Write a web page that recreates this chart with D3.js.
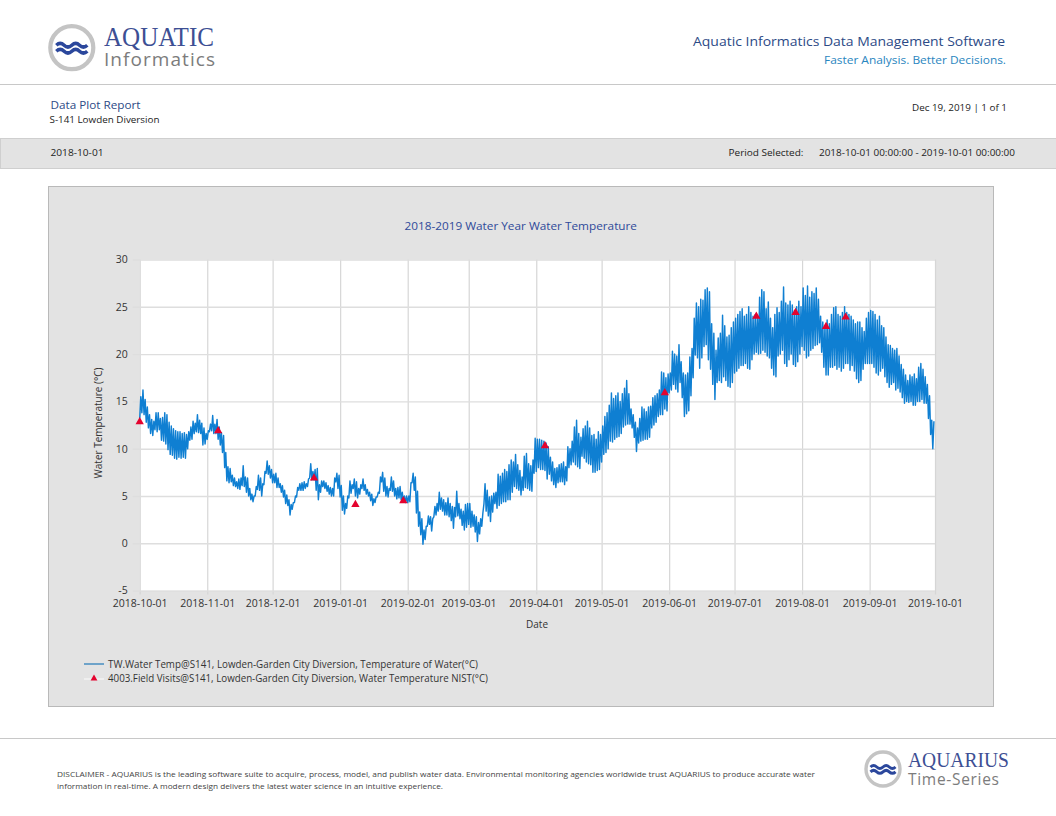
<!DOCTYPE html>
<html>
<head>
<meta charset="utf-8">
<title>Data Plot Report</title>
<script src="https://cdn.jsdelivr.net/npm/d3@7"></script>
<style>
html,body{margin:0;padding:0;background:#fff;}
svg{display:block;}
text{font-family:"Open Sans","Noto Sans",sans-serif;}
</style>
</head>
<body>
<svg id="main"></svg>
<script>
// daily low / high water temperature, one pair per day from 2018-10-01
var tempLow=[
//oct
13.2,13.8,13.6,12.8,12.2,11.6,11.4,12,11.8,12,10.9,10.8,10.5,9.9,9.4,9.3,9,8.9,9.1,9,9.1,9,10,10.9,11,11.6,11.8,11.7,11.6,10.4,10.5,
//nov
11,11.8,11.9,11.6,11.6,11,10.4,9.6,8,6.6,6.4,6.5,6.1,6,5.8,5.7,6.1,6,5.4,5,4.6,4.4,5,5.7,5.6,5,6.2,7.4,7.3,6.9,
//dec
6.4,6.4,5.9,5.9,5.4,4.9,4.2,4,3,3.6,4.3,4.9,5.6,5.6,5.6,5.8,6,6.9,6.7,6.7,5.6,4.6,5.4,6,5.8,5.5,5.2,5,5,6.5,5.8,
//jan
4.9,3.5,3.1,3.7,4.8,5.3,5.8,5,4.8,5.2,5.8,5.6,5.2,5,4.5,4,4.3,4.9,5.3,6.5,5.5,5,4.9,5.6,5.5,5,4.7,4.8,4.6,4.5,4.3,
//feb
4.3,4.4,6.4,5.6,3.2,1.8,0.9,-0.1,0.4,1.8,2,1.3,2.8,3,3.4,3.6,3.4,3,3,2.8,2.4,1.6,2.8,2.9,2.6,1.9,1.4,1.7,
//mar
2,1.7,1.8,1.2,0.2,1,1.8,4.2,3.4,2.9,2.3,3.3,4.2,3.7,4,4.2,4.4,4.4,4.6,4.6,5.4,6,5.8,5.6,5.1,5.6,5.9,5.8,5.6,5.5,7.4,
//apr
7.6,8,7.8,7.8,7.7,6.8,7.3,6.6,6.2,5.9,6.4,6.5,6.5,6.2,6.6,8,8.3,8.6,8.3,8.1,7.9,9.2,9,8.6,8.4,8.3,7.5,7.5,7.7,7.8,
//may
8.6,9.4,9.6,10,10.8,10.7,11,11.2,11.3,11.6,12.3,12.5,12.6,12.6,12.2,11.2,9.7,10.6,10.8,10.9,11,11,11.2,12.2,12.5,12.8,13.4,13.6,13.6,14.2,14,15.9,
//jun
16.2,16.8,16.3,16,17,15.4,13.4,13.7,14,15.6,17.5,19.9,19.6,18.5,19.6,20.8,21,19.4,18.4,16.8,15.2,17,17.2,17,17.6,17.2,16.6,16.5,17,18,
//jul
18.2,18.5,18.8,18.8,19,18.5,18.4,19.4,20,20.2,20,20.1,20.4,20.2,19.8,19.6,18.5,17.8,17.6,19.8,20,20.4,19,18.7,19.4,20,18.9,18.7,19.2,20,20.8,
//aug
20.4,19.6,19.8,20.4,20.6,20.9,21,21.2,20.2,18.6,17.8,17.8,18.6,18.6,18.8,18.4,18.6,18.2,18.5,19,19,18.3,18.8,18.2,17.4,17,17.2,18.4,19,19,19,
//sep
19,18.6,18,17.8,18.2,18.5,17.6,17,16.5,16.8,17,16.2,16.4,16,15.4,14.8,15,14.9,15,14.6,14.6,15,15,15.2,14.8,14.8,13.2,11.5,10
];
var tempHigh=[
//oct
15.5,16.2,15.2,14.4,13.6,13.1,12.9,13.8,13.8,13.2,13.3,13.8,13.6,12.8,12.4,12.1,11.9,11.8,11.8,11.6,11.7,11.5,11.8,12.3,12.9,12.7,13.6,13,12.7,12.2,11.6,
//nov
11.9,12.6,13.5,12.6,13.1,12.3,11.7,11.4,9.6,8.1,7.9,7.2,6.9,6.5,6.8,6.9,8.2,7,6.9,5.8,5.2,5,6,7.2,6.9,6.3,7.6,8.7,8.2,7.8,
//dec
7.3,7.4,6.9,6.3,6.1,5.6,5.1,4.6,4.1,4.3,5,5.9,6.3,6.4,6.5,6.3,6.8,8.4,7.6,7.8,7.9,6.2,6.6,6.6,6.4,6.1,5.9,5.8,6.9,7.4,7.2,
//jan
6.1,5,4.2,5,6.6,6.2,6.8,6.5,5.8,6.2,6.8,6.2,5.7,5.4,5.2,4.7,4.9,5.4,7,7.5,6.9,6,5.8,7,6.6,5.8,5.9,6,5.4,5,5,
//feb
5,6.4,7.4,7,5.5,3.3,2.6,1.4,1.8,2.9,2.8,2.6,3.9,4.2,5.4,4.8,4.6,4.3,4.8,4.2,3.9,3.8,5.5,4.2,3.6,3.4,4.1,4.2,
//mar
4.2,3.4,3,2.8,2.2,2.6,3.2,6.3,5.6,4.9,5,5.3,5.4,7.3,7.1,7.4,7.8,7.6,8.3,8.8,8.6,9.4,8.3,7.7,7,9.2,9.5,8.4,8.2,8.8,11.1,
//apr
11,11,10.9,10.8,10.6,10.2,9.1,8.6,7.9,8,8.3,8.4,8.6,8.1,10.2,10,10.8,12.3,13,11.6,11.2,12.1,12.4,12.9,12.2,11.4,11.5,11,11.8,11.5,
//may
12.4,13.4,13.8,14.6,15.9,15.3,15.6,15.9,15,15.8,16.4,17.2,15.8,14.2,13.6,12.8,12.2,13.2,14.4,14.2,13.9,14.4,14.5,15.4,15.6,15.8,16.2,18.1,18,17.5,17.9,18,
//jun
20.3,20,19.8,21,19.2,18,17.8,18,19.7,20.6,23.8,25.4,25,25.8,25.7,26.8,27,26.6,23.2,22.2,20.4,21.7,22.2,24.1,23,21.8,22,22.8,23.4,23.8,
//jul
24.2,24.5,24.8,24,24.2,25,24.4,24,24.2,24,26,26.8,26.6,24.8,25.5,23.8,22.8,24.2,24.9,24.4,25.6,27.1,25.4,25.2,25.6,25.2,24.6,25,25.6,25,27,
//aug
26.2,27.2,26,26.6,26.4,27,25.8,24,23.4,23,23.6,23.2,24.2,24.9,25,24.2,24,24.4,25,24.4,24.2,24,23.6,23.2,23.4,23.4,22.8,22.4,23.8,24.4,24.6,
//sep
24.5,24.2,23.6,24,23,22.8,21.8,21,20.9,20.6,20.4,20.6,19.8,18.9,18.4,17.8,17.2,17.8,17.6,17.9,17.4,18.6,19,18.4,17.6,16.8,15.6,13,12.9
];

var visitDates=["2018-10-01","2018-11-06","2018-12-20","2019-01-08","2019-01-30","2019-04-05","2019-05-30","2019-07-11","2019-07-29","2019-08-12","2019-08-21"];
var visitTemps=[12.85,11.9,6.9,4.1,4.5,10.3,15.9,24,24.4,22.9,23.9];

var xTickLabels=["2018-10-01","2018-11-01","2018-12-01","2019-01-01","2019-02-01","2019-03-01","2019-04-01","2019-05-01","2019-06-01","2019-07-01","2019-08-01","2019-09-01","2019-10-01"];
var yTickValues=[-5,0,5,10,15,20,25,30];

var legendLabels=["TW.Water Temp@S141, Lowden-Garden City Diversion, Temperature of Water(°C)","4003.Field Visits@S141, Lowden-Garden City Diversion, Water Temperature NIST(°C)"];

var WIDTH=1056,HEIGHT=816;
var PLOT={left:139.7,right:935,top:259.5,bottom:590.6};
var BLUE="#0f7fd2",NAVY="#2c4a86";

var svg=d3.select("#main").attr("width",WIDTH).attr("height",HEIGHT);
var parseDay=d3.utcParse("%Y-%m-%d");

//text helper, w forces the width measured on the reference
function label(g,str,x,y,size,color,w,anchor){
    let t=g.append("text").text(str)
        .attr("x",x).attr("y",y)
        .attr("font-size",size)
        .attr("fill",color)
        .attr("text-anchor",anchor||"start");
    if(w) t.attr("textLength",w).attr("lengthAdjust","spacingAndGlyphs");
    return t;
}

function drawLogo(g,cx,cy,r,name,sub,nameX,nameY,nameW,nameSize,subY,subW,subSize){
    g.append("circle").attr("cx",cx).attr("cy",cy).attr("r",r-2)
        .attr("fill","#fff").attr("stroke","#c4c4c4").attr("stroke-width",r*0.18);
    let k=r/23.5;
    [-2.5,3.5].forEach(function(dy){
        let p=d3.path();
        p.moveTo(cx-15.5*k,cy+dy*k);
        p.quadraticCurveTo(cx-11.6*k,cy+(dy-3.6)*k,cx-7.7*k,cy+dy*k);
        p.quadraticCurveTo(cx-3.9*k,cy+(dy+3.6)*k,cx,cy+dy*k);
        p.quadraticCurveTo(cx+3.9*k,cy+(dy-3.6)*k,cx+7.7*k,cy+dy*k);
        p.quadraticCurveTo(cx+11.6*k,cy+(dy+3.6)*k,cx+15.5*k,cy+dy*k);
        g.append("path").attr("d",p.toString()).attr("fill","none")
            .attr("stroke","#2b479c").attr("stroke-width",3.6*k);
    });
    label(g,name,nameX,nameY,nameSize,"#3d4f94",nameW).style("font-family","'Liberation Serif',serif");
    label(g,sub,nameX,subY,subSize,"#7c7c7c",subW).attr("lengthAdjust","spacing");
}

function drawPage(){
    let g=svg.append("g").attr("class","page");
    g.append("line").attr("x1",0).attr("x2",WIDTH).attr("y1",84.5).attr("y2",84.5).attr("stroke","#c8c8c8");
    g.append("rect").attr("x",0.5).attr("y",138.5).attr("width",WIDTH).attr("height",30)
        .attr("fill","#e3e3e3").attr("stroke","#cfcfcf");
    g.append("line").attr("x1",0).attr("x2",WIDTH).attr("y1",738.5).attr("y2",738.5).attr("stroke","#c8c8c8");

    drawLogo(g,71.8,47.7,23.5,"AQUATIC","Informatics",104,46,110,27,66,111,19);
    drawLogo(g,883,769,19,"AQUARIUS","Time-Series",908,767,101,21,785,91,15.5);

    label(g,"Aquatic Informatics Data Management Software",693,46,13,NAVY,312);
    label(g,"Faster Analysis. Better Decisions.",824,64,11,"#2a86c0",182);
    label(g,"Data Plot Report",50.5,109,11,NAVY,90);
    label(g,"S-141 Lowden Diversion",49.5,123,9.5,"#222",110);
    label(g,"Dec 19, 2019 | 1 of 1",912,111,9.5,"#222",95);
    label(g,"2018-10-01",50.5,156,9.5,"#222",53);
    label(g,"Period Selected:",728.5,156,9.5,"#222",75);
    label(g,"2018-10-01 00:00:00 - 2019-10-01 00:00:00",819,156,9.5,"#222",196);

    label(g,"DISCLAIMER - AQUARIUS is the leading software suite to acquire, process, model, and publish water data. Environmental monitoring agencies worldwide trust AQUARIUS to produce accurate water",57,777,8,"#444",758);
    label(g,"information in real-time. A modern design delivers the latest water science in an intuitive experience.",57,789,8,"#444",386);
}

function drawChart(){
    let g=svg.append("g").attr("class","chart");
    g.append("rect").attr("x",48.5).attr("y",186.5).attr("width",945).attr("height",520)
        .attr("fill","#e3e3e3").attr("stroke","#b9b9b9");
    g.append("rect").attr("x",PLOT.left).attr("y",PLOT.top)
        .attr("width",PLOT.right-PLOT.left).attr("height",PLOT.bottom-PLOT.top).attr("fill","#fff");

    let x=d3.scaleUtc().domain([parseDay("2018-10-01"),parseDay("2019-10-01")]).range([PLOT.left,PLOT.right]);
    let y=d3.scaleLinear().domain([-5,30]).range([PLOT.bottom,PLOT.top]);

    let xAxis=d3.axisBottom(x)
        .tickValues(xTickLabels.map(parseDay))
        .tickFormat(d3.utcFormat("%Y-%m-%d"))
        .tickSize(PLOT.top-PLOT.bottom).tickSizeOuter(0);
    let yAxis=d3.axisLeft(y)
        .tickValues(yTickValues)
        .tickFormat(function(d){return String(d)})
        .tickSize(PLOT.left-PLOT.right).tickSizeOuter(0);

    let gx=g.append("g").attr("transform","translate(0,"+PLOT.bottom+")").call(xAxis);
    let gy=g.append("g").attr("transform","translate("+PLOT.left+",0)").call(yAxis);
    gx.select(".domain").remove();
    gy.select(".domain").remove();
    gx.selectAll("line").attr("y1",4).attr("stroke","#d6d6d6").attr("stroke-width",1.2);
    gy.selectAll("line").attr("x1",-7).attr("stroke","#dedede").attr("stroke-width",1.4);
    gx.selectAll("text").attr("y",9).attr("dy","0.71em").attr("font-size",10.5).attr("fill","#333")
        .style("font-family","'Open Sans',sans-serif");
    gy.selectAll("text").attr("x",-12).attr("font-size",10.5).attr("fill","#333")
        .style("font-family","'Open Sans',sans-serif");

    //one low and one high per day gives the diurnal zigzag
    let points=[];
    tempLow.forEach(function(v,i){
        let day=d3.utcDay.offset(parseDay("2018-10-01"),i);
        points.push({t:day,v:v});
        points.push({t:d3.utcHour.offset(day,12),v:tempHigh[i]});
    });
    let line=d3.line().x(function(d){return x(d.t)}).y(function(d){return y(d.v)});
    g.append("path").datum(points).attr("d",line)
        .attr("fill","none").attr("stroke",BLUE).attr("stroke-width",1.45).attr("stroke-linejoin","round");

    let tri=d3.symbol().type(d3.symbolTriangle).size(30);
    g.append("g").selectAll("path").data(visitDates).enter().append("path")
        .attr("d",tri)
        .attr("transform",function(d,i){return "translate("+x(parseDay(d))+","+y(visitTemps[i])+")"})
        .attr("fill","#e4032e");

    label(g,"2018-2019 Water Year Water Temperature",404.5,230,10.5,"#2f4a9a",232.5);
    label(g,"Date",537,628,10,"#333",null,"middle");
    label(g,"Water Temperature (°C)",0,0,10,"#333",null,"middle")
        .attr("transform","translate(102,423) rotate(-90)");

    //legend
    g.append("line").attr("x1",84).attr("x2",104).attr("y1",664).attr("y2",664).attr("stroke","#1f78b8").attr("stroke-width",1.2);
    g.append("line").attr("x1",84).attr("x2",104).attr("y1",679).attr("y2",679).attr("stroke","#f6f6f6").attr("stroke-width",1.2);
    g.append("path").attr("d",d3.symbol().type(d3.symbolTriangle).size(20))
        .attr("transform","translate(94,678.5)").attr("fill","#e4032e");
    label(g,legendLabels[0],108,667.5,10,"#333",370);
    label(g,legendLabels[1],108,681.5,10,"#333",380);
}

drawPage();
drawChart();
</script>
</body>
</html>
